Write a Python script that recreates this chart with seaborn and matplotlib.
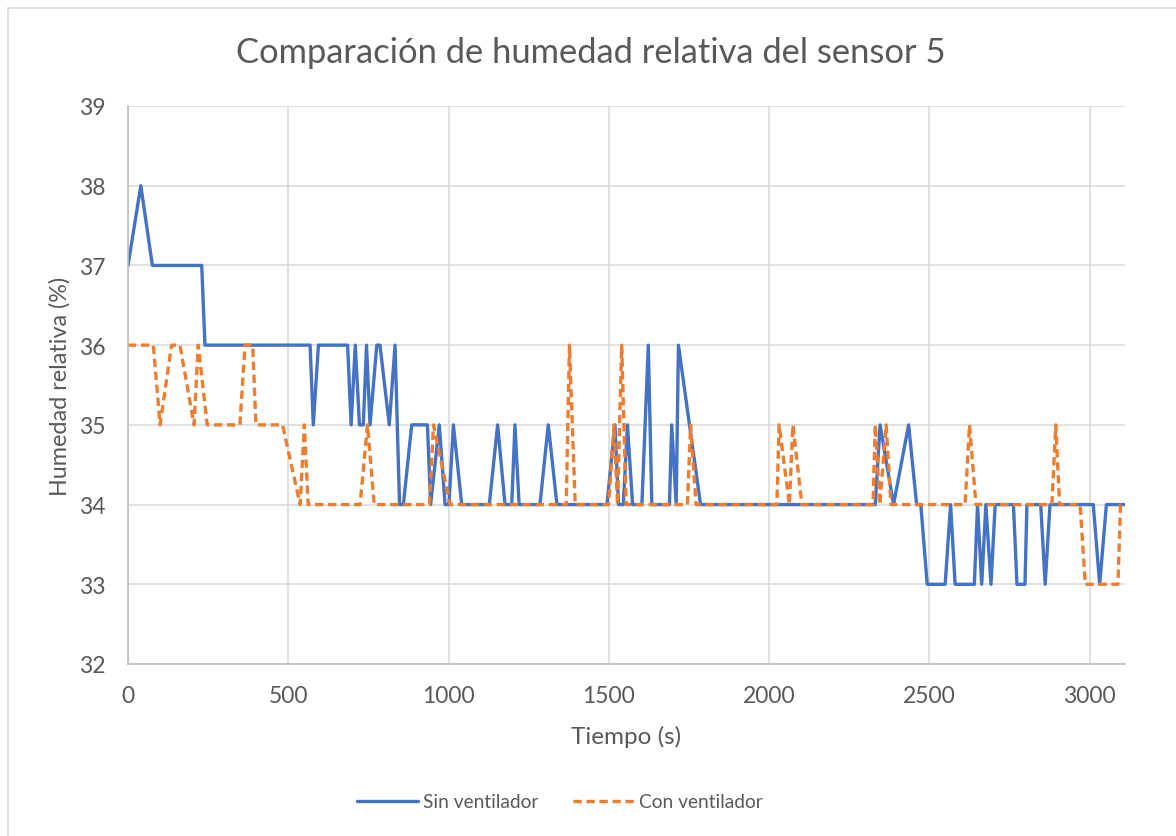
"""
Comparación de humedad relativa del sensor 5 (con / sin ventilador)
"""
import matplotlib
matplotlib.use('Agg')
import matplotlib.pyplot as plt
from matplotlib.lines import Line2D
import seaborn as sns
import pandas as pd

# Datos: vértices (tiempo, humedad)
t_sin = [0, 40, 76, 230, 240, 568, 578, 594, 685, 696, 709, 722, 734, 744, 755,
         776, 786, 815, 833, 847, 859, 885, 934, 944, 971, 989, 1001, 1015, 1041,
         1127, 1153, 1176, 1197, 1207, 1220, 1285, 1311, 1338, 1494, 1519, 1530,
         1545, 1558, 1574, 1603, 1623, 1634, 1689, 1696, 1710, 1717, 1786, 2331,
         2346, 2388, 2435, 2460, 2473, 2493, 2549, 2566, 2580, 2640, 2650, 2663,
         2676, 2692, 2705, 2762, 2773, 2798, 2804, 2847, 2861, 2876, 3011, 3031,
         3052, 3110]
h_sin = [37, 38, 37, 37, 36, 36, 35, 36, 36, 35, 36, 35, 35, 36, 35,
         36, 36, 35, 36, 34, 34, 35, 35, 34, 35, 34, 34, 35, 34,
         34, 35, 34, 34, 35, 34, 34, 35, 34, 34, 35, 34,
         34, 35, 34, 34, 36, 34, 34, 35, 34, 36, 34, 34,
         35, 34, 35, 34, 34, 33, 33, 34, 33, 33, 34, 33,
         34, 33, 34, 34, 33, 33, 34, 34, 33, 34, 34, 33,
         34, 34]

t_con = [0, 79, 100, 136, 162, 206, 219, 247, 349, 365, 389, 399, 482, 537, 550,
         562, 724, 747, 768, 940, 953, 1005, 1367, 1377, 1395, 1499, 1516, 1527,
         1540, 1554, 1745, 1755, 1772, 2024, 2031, 2063, 2074, 2102, 2324, 2331,
         2345, 2365, 2380, 2611, 2625, 2645, 2882, 2894, 2906, 2970, 2986, 3088,
         3096, 3110]
h_con = [36, 36, 35, 36, 36, 35, 36, 35, 35, 36, 36, 35, 35, 34, 35,
         34, 34, 35, 34, 34, 35, 34, 34, 36, 34, 34, 35, 34,
         36, 34, 34, 35, 34, 34, 35, 34, 35, 34, 34, 35,
         34, 35, 34, 34, 35, 34, 34, 35, 34, 34, 33, 33,
         34, 34]

x_ticks = [0, 500, 1000, 1500, 2000, 2500, 3000]
y_ticks = [32, 33, 34, 35, 36, 37, 38, 39]

df_sin = pd.DataFrame({'t': t_sin, 'h': h_sin})
df_con = pd.DataFrame({'t': t_con, 'h': h_con})

sns.set_style("white")
plt.rcParams['font.family'] = ['Lato', 'DejaVu Sans']

GRIS = '#595959'
AZUL = '#4472C4'
NARANJA = '#ED7D31'
DASH = [2.5, 1.4]

W, H = 1176, 837
fig = plt.figure(figsize=(W / 100, H / 100), dpi=100)
ax = fig.add_axes([128 / W, 1 - 665 / H, (1125 - 128) / W, (665 - 107) / H])

sns.lineplot(data=df_sin, x='t', y='h', ax=ax, color=AZUL, linewidth=2.4,
             estimator=None, sort=False, label='Sin ventilador')
sns.lineplot(data=df_con, x='t', y='h', ax=ax, color=NARANJA, linewidth=2.4,
             estimator=None, sort=False, label='Con ventilador')
ax.lines[1].set_dashes(DASH)

ax.set_xlim(0, 3110)
ax.set_ylim(32, 39)
ax.set_xticks(x_ticks)
ax.set_yticks(y_ticks)
ax.grid(True, color='#d9d9d9', linewidth=1.1)
ax.set_axisbelow(True)
for s in ['top', 'right']:
    ax.spines[s].set_visible(False)
for s in ['left', 'bottom']:
    ax.spines[s].set_color('#bfbfbf')
    ax.spines[s].set_linewidth(1.2)
ax.tick_params(axis='both', length=0, labelsize=16.5, labelcolor=GRIS)
ax.tick_params(axis='x', pad=15)
ax.tick_params(axis='y', pad=16)

ax.set_xlabel('Tiempo (s)', fontsize=17.5, color=GRIS)
ax.set_ylabel('Humedad relativa (%)', fontsize=16.8, color=GRIS)
ax.xaxis.set_label_coords(0.5, (665 - 737) / 558)
ax.yaxis.set_label_coords((60 - 128) / 997, 0.5)
ax.xaxis.label.set_va('center')
ax.yaxis.label.set_va('center')

fig.text(591 / W, 1 - 53 / H, 'Comparación de humedad relativa del sensor 5',
         ha='center', va='center', fontsize=24.8, color=GRIS)

ax.get_legend().remove()
handles = [Line2D([], [], color=AZUL, linewidth=2.4),
           Line2D([], [], color=NARANJA, linewidth=2.4, dashes=DASH)]
fig.legend(handles, ['Sin ventilador', 'Con ventilador'], loc='center',
           bbox_to_anchor=(560 / W, 1 - 803 / H), ncol=2, frameon=False,
           fontsize=13.8, labelcolor=GRIS, handlelength=3.2, handletextpad=0.25,
           columnspacing=1.8)

# marco exterior del gráfico
fig.add_artist(Line2D([8 / W, 1], [1 - 9 / H, 1 - 9 / H], color='#d9d9d9', linewidth=1.2))
fig.add_artist(Line2D([8 / W, 8 / W], [0, 1 - 9 / H], color='#d9d9d9', linewidth=1.2))

fig.savefig('out.png', dpi=100)
